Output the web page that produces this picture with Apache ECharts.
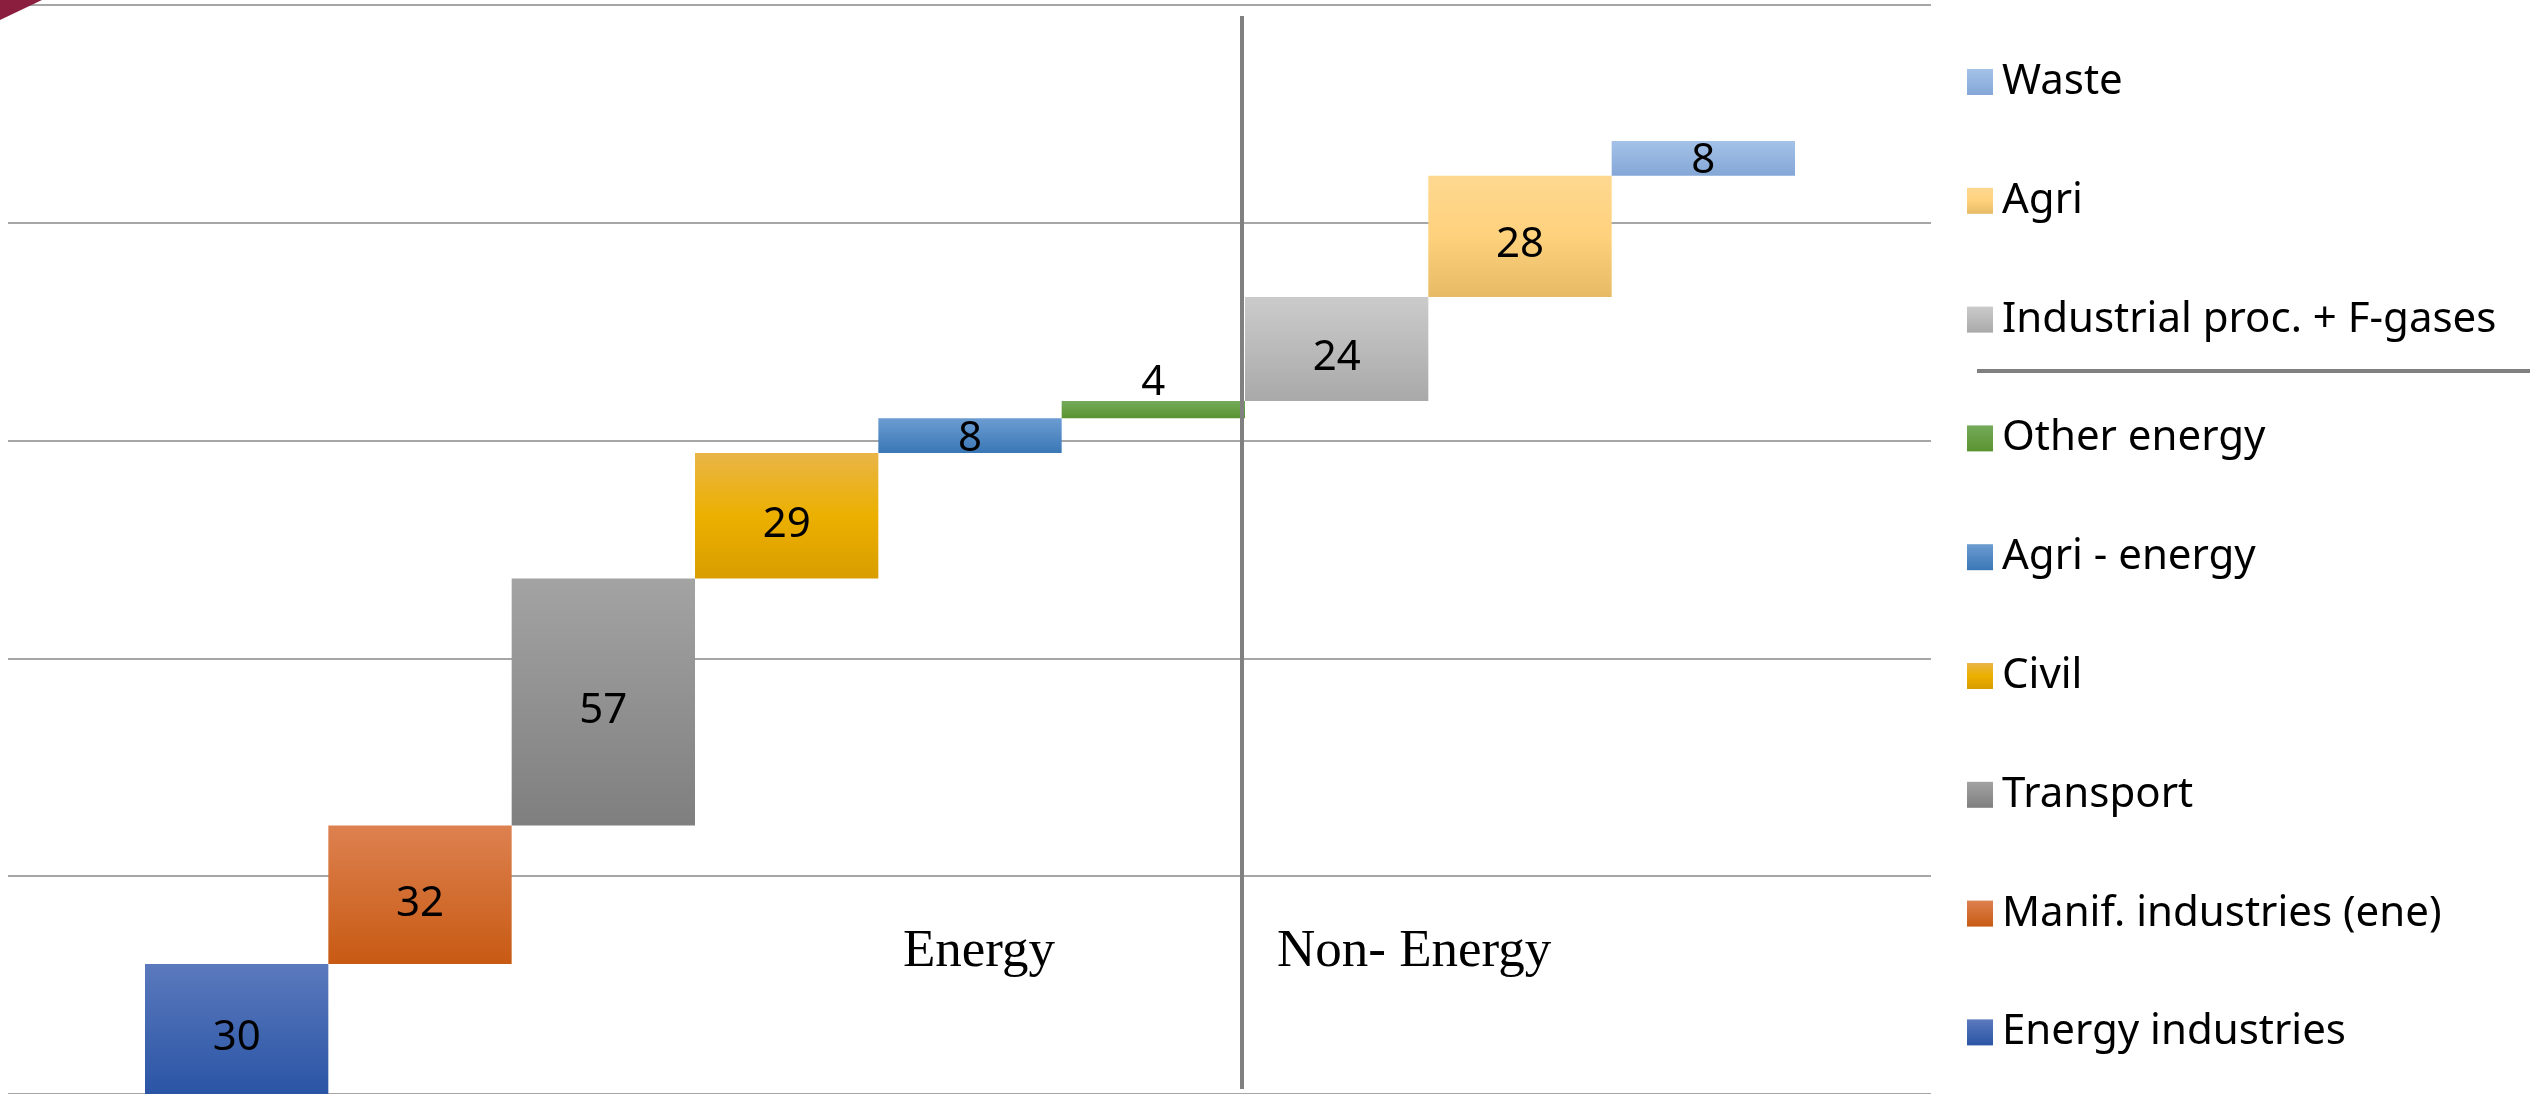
<!DOCTYPE html>
<html>
<head>
<meta charset="utf-8">
<script src="https://cdn.jsdelivr.net/npm/echarts@6/dist/echarts.min.js"></script>
<style>
html,body{margin:0;padding:0;background:#fff;}
#c{width:2530px;height:1094px;}
</style>
</head>
<body>
<div id="c"></div>
<script>
// ---- data ----
var categories = ['Energy industries', 'Manif. industries (ene)', 'Transport', 'Civil', 'Agri - energy', 'Other energy', 'Industrial proc. + F-gases', 'Agri', 'Waste'];
var values = [30, 32, 57, 29, 8, 4, 24, 28, 8];
var groupLabels = ['Energy', 'Non- Energy'];
var energyCount = 6; // first 6 categories belong to the Energy group
var yTicks = [0, 50, 100, 150, 200, 250];

// ---- styling ----
var gradients = [
  ['#5b79bd', '#2a55a5'],
  ['#dd8150', '#c85a13'],
  ['#a3a3a3', '#7f7f7f'],
  ['#e9b547', '#ecb000', '#d99d00'],
  ['#6c9cd1', '#3a77b6'],
  ['#74aa5b', '#5a9330'],
  ['#cbcbcb', '#a9a9a9'],
  ['#fed890', '#fed17d', '#e7ba65'],
  ['#a4c2e8', '#84a7d7']
];
function grad(cols) {
  var stops = cols.map(function (c, i) { return { offset: i / (cols.length - 1), color: c }; });
  return new echarts.graphic.LinearGradient(0, 0, 0, 1, stops);
}

// bases built from the values
var bases = [];
var acc = 0;
values.forEach(function (v) { bases.push(acc); acc += v; });

var chart = echarts.init(document.getElementById('c'), null, { renderer: 'canvas' });

var series = [{
  name: '__base',
  type: 'bar',
  xAxisIndex: 1, yAxisIndex: 1,
  stack: 'w',
  silent: true,
  itemStyle: { color: 'transparent' },
  barCategoryGap: '0%',
  data: bases,
  legendHoverLink: false
}];
categories.forEach(function (name, i) {
  var d = categories.map(function (_, j) { return j === i ? values[i] : '-'; });
  var small = values[i] < 6;
  var tall = values[i] > 12;
  series.push({
    name: name,
    type: 'bar',
    xAxisIndex: 1, yAxisIndex: 1,
    stack: 'w',
    barCategoryGap: '0%',
    itemStyle: { color: grad(gradients[i]) },
    label: {
      show: true,
      position: small ? 'top' : 'inside',
      distance: 3,
      offset: [0, tall ? 9 : (small ? 6 : 3)],
      color: '#000',
      fontFamily: 'Noto Sans',
      fontSize: 42,
      formatter: function (p) { return p.value; }
    },
    data: d
  });
});

var option = {
  animation: false,
  backgroundColor: '#fff',
  grid: [
    { left: 8, right: 599, top: 5, bottom: 0 },
    { left: 145, right: 735, top: 5, bottom: -1 }
  ],
  xAxis: [
    { type: 'value', gridIndex: 0, show: false, min: 0, max: 1 },
    { type: 'category', gridIndex: 1, data: categories, show: false }
  ],
  yAxis: [
    {
      type: 'value', gridIndex: 0, min: yTicks[0], max: yTicks[yTicks.length - 1], interval: 50,
      axisLine: { show: false }, axisTick: { show: false }, axisLabel: { show: false },
      splitLine: { show: true, lineStyle: { color: '#a6a6a6', width: 2 } }
    },
    {
      type: 'value', gridIndex: 1, min: 0, max: 251.4,
      show: false, splitLine: { show: false }
    }
  ],
  legend: {
    orient: 'vertical',
    left: 1962,
    top: 53,
    data: categories.slice().reverse(),
    itemWidth: 26,
    itemHeight: 26,
    itemGap: 70.8,
    icon: 'rect',
    selectedMode: false,
    textStyle: { fontFamily: 'Noto Sans', fontSize: 42, color: '#000', lineHeight: 48, padding: [0, 0, 0, 4] }
  },
  series: series
};
chart.setOption(option);

// decorations: group divider, group labels, legend separator, corner mark
var c5 = chart.convertToPixel({ xAxisIndex: 1 }, categories[energyCount - 1]);
var c6 = chart.convertToPixel({ xAxisIndex: 1 }, categories[energyCount]);
var divX = (c5 + c6) / 2 - 3;
chart.setOption({
  graphic: [
    { type: 'polygon', shape: { points: [[0, 0], [42, 0], [0, 20]] }, style: { fill: '#8b1e3f' }, z: 100 },
    { type: 'line', shape: { x1: divX, y1: 16, x2: divX, y2: 1089 }, style: { stroke: '#808080', lineWidth: 4 }, z: 100 },
    { type: 'line', shape: { x1: 1977, y1: 371, x2: 2530, y2: 371 }, style: { stroke: '#808080', lineWidth: 4 }, z: 100 },
    { type: 'text', x: 979, y: 952, style: { text: groupLabels[0], font: '53px "Liberation Serif"', fill: '#000', textAlign: 'center', textVerticalAlign: 'middle' }, z: 100 },
    { type: 'text', x: 1277, y: 952, style: { text: groupLabels[1], font: '53px "Liberation Serif"', fill: '#000', textAlign: 'left', textVerticalAlign: 'middle' }, z: 100 }
  ]
});
</script>
</body>
</html>
